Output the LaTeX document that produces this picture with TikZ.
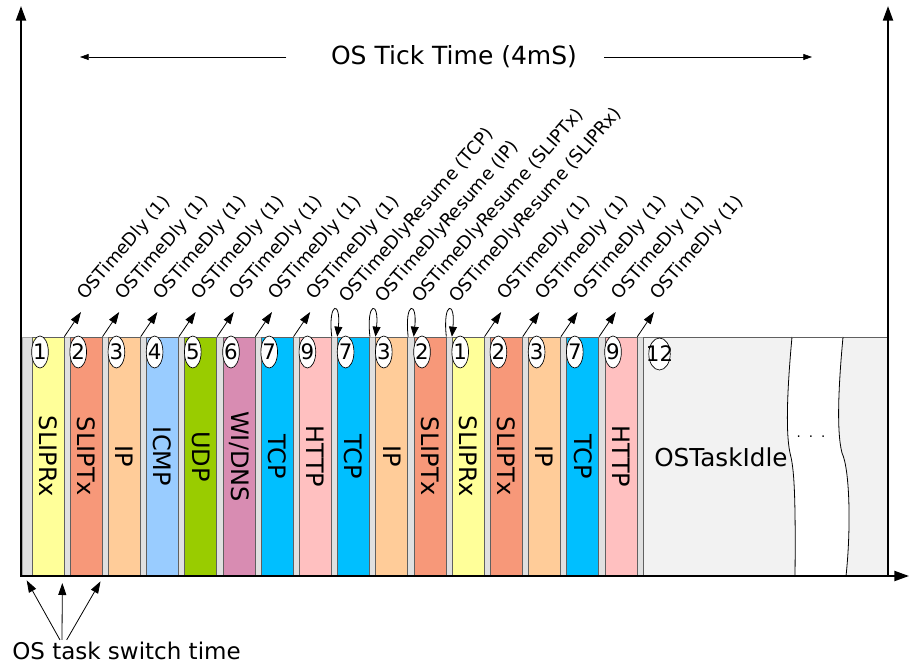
\documentclass[tikz,border=0pt]{standalone}
\usepackage{fontspec}
\setmainfont{DejaVu Sans}
\usepackage{graphicx}
\definecolor{osrx}{RGB}{255,255,153}
\definecolor{ostx}{RGB}{247,152,121}
\definecolor{osip}{RGB}{255,204,153}
\definecolor{osicmp}{RGB}{153,204,255}
\definecolor{osudp}{RGB}{153,204,0}
\definecolor{osdns}{RGB}{216,140,178}
\definecolor{ostcp}{RGB}{0,191,255}
\definecolor{oshttp}{RGB}{255,192,192}
\definecolor{osgap}{RGB}{224,224,224}
\definecolor{osidle}{RGB}{242,242,242}
\definecolor{osedge}{RGB}{96,96,96}
\usetikzlibrary{arrows.meta,shapes.geometric}

\begin{document}
\begin{tikzpicture}[x=0.75pt, y=0.75pt,
    task/.style={rectangle, draw=osedge, line width=0.5pt, minimum width=24pt, minimum height=179.25pt,
      inner sep=0pt, font=\fontsize{18}{20}\selectfont},
    prio/.style={ellipse, draw, fill=white, line width=0.5pt, minimum width=12.5pt, minimum height=24pt,
      inner xsep=-4.5pt, inner ysep=0pt, font=\fontsize{16}{17}\selectfont},
    call/.style={rotate=49, anchor=base west, inner sep=0pt, font=\fontsize{13.5}{14}\selectfont},
    dly/.style={-{Triangle[length=9pt, width=6pt]}, line width=0.6pt},
    resume/.style={-{Triangle[length=7.5pt, width=6pt]}, line width=0.6pt},
    axis/.style={-{Triangle[length=11pt, width=7.5pt]}, line width=1.6pt},
    span/.style={-{Triangle[length=6.5pt, width=4.5pt]}, line width=0.5pt}
  ]
    \useasboundingbox (0,0) rectangle (909,664);

    % Tick period backdrop and idle area
    \draw[fill=osgap, draw=gray!70, line width=0.5pt] (22,88) rectangle (888,327);
    \draw[fill=osidle, draw=osedge, line width=0.5pt] (643,88) rectangle (888,327);

    % Time break in the idle task
    \fill[white] (792,327) .. controls (788,284) and (785,234) .. (790,211)
      .. controls (793,199) and (796,184) .. (795,88) -- (846,88)
      .. controls (851,134) and (850,194) .. (842,211)
      .. controls (836,234) and (839,284) .. (843,327) -- cycle;
    \draw[line width=0.6pt] (792,327) .. controls (788,284) and (785,234) .. (790,211)
      .. controls (793,199) and (796,184) .. (795,88);
    \draw[line width=0.6pt] (843,327) .. controls (839,284) and (836,234) .. (842,211)
      .. controls (850,194) and (851,134) .. (846,88);
    \draw[draw=osedge, line width=0.5pt] (792,327) -- (843,327);
    \node[font=\fontsize{10}{10}\selectfont] (dots) at (811,227) {.\hspace{6pt}.\hspace{6pt}.};
    \node[anchor=west, inner sep=0pt, font=\fontsize{18.5}{20}\selectfont] (idle) at (654,207) {OSTaskIdle};

    % Tasks in one tick
    \node[task, fill=osrx]   (b1)  at (48,207.5)    {\rotatebox{-90}{SLIPRx}};
    \node[task, fill=ostx]   (b2)  at (86.2,207.5)  {\rotatebox{-90}{SLIPTx}};
    \node[task, fill=osip]   (b3)  at (124.4,207.5) {\rotatebox{-90}{IP}};
    \node[task, fill=osicmp] (b4)  at (162.6,207.5) {\rotatebox{-90}{ICMP}};
    \node[task, fill=osudp]  (b5)  at (200.8,207.5) {\rotatebox{-90}{UDP}};
    \node[task, fill=osdns]  (b6)  at (239,207.5)   {\rotatebox{-90}{WI/DNS}};
    \node[task, fill=ostcp]  (b7)  at (277.2,207.5) {\rotatebox{-90}{TCP}};
    \node[task, fill=oshttp] (b8)  at (315.4,207.5) {\rotatebox{-90}{HTTP}};
    \node[task, fill=ostcp]  (b9)  at (353.6,207.5) {\rotatebox{-90}{TCP}};
    \node[task, fill=osip]   (b10) at (391.8,207.5) {\rotatebox{-90}{IP}};
    \node[task, fill=ostx]   (b11) at (430,207.5)   {\rotatebox{-90}{SLIPTx}};
    \node[task, fill=osrx]   (b12) at (468.2,207.5) {\rotatebox{-90}{SLIPRx}};
    \node[task, fill=ostx]   (b13) at (506.4,207.5) {\rotatebox{-90}{SLIPTx}};
    \node[task, fill=osip]   (b14) at (544.6,207.5) {\rotatebox{-90}{IP}};
    \node[task, fill=ostcp]  (b15) at (582.8,207.5) {\rotatebox{-90}{TCP}};
    \node[task, fill=oshttp] (b16) at (621,207.5)   {\rotatebox{-90}{HTTP}};

    % Priorities
    \node[prio] (p1)  at (40,312)    {1};
    \node[prio] (p2)  at (78.2,312)  {2};
    \node[prio] (p3)  at (116.4,312) {3};
    \node[prio] (p4)  at (154.6,312) {4};
    \node[prio] (p5)  at (192.8,312) {5};
    \node[prio] (p6)  at (231,312)   {6};
    \node[prio] (p7)  at (269.2,312) {7};
    \node[prio] (p8)  at (307.4,312) {9};
    \node[prio] (p9)  at (345.6,312) {7};
    \node[prio] (p10) at (383.8,312) {3};
    \node[prio] (p11) at (422,312)   {2};
    \node[prio] (p12) at (460.2,312) {1};
    \node[prio] (p13) at (498.4,312) {2};
    \node[prio] (p14) at (536.6,312) {3};
    \node[prio] (p15) at (574.8,312) {7};
    \node[prio] (p16) at (613,312)   {9};
    \node[prio] (p17) at (659.5,310) {12};

    % Axes
    \draw[axis] (21,87.5) -- (21,658);
    \draw[axis] (888,87.5) -- (888,658);
    \draw[axis] (21,88) -- (909,88);

    % Tick period
    \node[font=\fontsize{18.75}{20}\selectfont] (tick) at (454,607) {OS Tick Time (4mS)};
    \coordinate (tl) at (80,607);
    \coordinate (tr) at (812,607);
    \draw[span] ([xshift=-30pt]tick.west) -- (tl);
    \draw[span] ([xshift=17pt]tick.east) -- (tr);

    % Tasks giving up the CPU
    \coordinate (t1)  at (81,352);
    \coordinate (t2)  at (119.2,352);
    \coordinate (t3)  at (157.4,352);
    \coordinate (t4)  at (195.6,352);
    \coordinate (t5)  at (233.8,352);
    \coordinate (t6)  at (272,352);
    \coordinate (t7)  at (310.2,352);
    \coordinate (t12) at (501.2,352);
    \coordinate (t13) at (539.4,352);
    \coordinate (t14) at (577.6,352);
    \coordinate (t15) at (615.8,352);
    \coordinate (t16) at (654,352);
    \draw[dly] (b1.north east)  -- (t1);
    \draw[dly] (b2.north east)  -- (t2);
    \draw[dly] (b3.north east)  -- (t3);
    \draw[dly] (b4.north east)  -- (t4);
    \draw[dly] (b5.north east)  -- (t5);
    \draw[dly] (b6.north east)  -- (t6);
    \draw[dly] (b7.north east)  -- (t7);
    \draw[dly] (b12.north east) -- (t12);
    \draw[dly] (b13.north east) -- (t13);
    \draw[dly] (b14.north east) -- (t14);
    \draw[dly] (b15.north east) -- (t15);
    \draw[dly] (b16.north east) -- (t16);

    % Resumed tasks
    \draw[resume] (b8.north east)  .. controls +(-4,36) and +(4,36) .. (b9.north west);
    \draw[resume] (b9.north east)  .. controls +(-4,36) and +(4,36) .. (b10.north west);
    \draw[resume] (b10.north east) .. controls +(-4,36) and +(4,36) .. (b11.north west);
    \draw[resume] (b11.north east) .. controls +(-4,36) and +(4,36) .. (b12.north west);

    % Call labels
    \node[call] (c1)  at (85,363)    {OSTimeDly (1)};
    \node[call] (c2)  at (123.2,363) {OSTimeDly (1)};
    \node[call] (c3)  at (161.4,363) {OSTimeDly (1)};
    \node[call] (c4)  at (199.6,363) {OSTimeDly (1)};
    \node[call] (c5)  at (237.8,363) {OSTimeDly (1)};
    \node[call] (c6)  at (276,363)   {OSTimeDly (1)};
    \node[call] (c7)  at (314.2,363) {OSTimeDly (1)};
    \node[call] (c8)  at (347,360)   {OSTimeDlyResume (TCP)};
    \node[call] (c9)  at (383,360)   {OSTimeDlyResume (IP)};
    \node[call] (c10) at (420,360)   {OSTimeDlyResume (SLIPTx)};
    \node[call] (c11) at (457,360)   {OSTimeDlyResume (SLIPRx)};
    \node[call] (c12) at (505.2,363) {OSTimeDly (1)};
    \node[call] (c13) at (543.4,363) {OSTimeDly (1)};
    \node[call] (c14) at (581.6,363) {OSTimeDly (1)};
    \node[call] (c15) at (619.8,363) {OSTimeDly (1)};
    \node[call] (c16) at (658,363)   {OSTimeDly (1)};

    % Task switch time
    \node[anchor=base west, inner sep=0pt, font=\fontsize{17.25}{19}\selectfont] (sw) at (12,5) {OS task switch time};
    \draw[dly] ([xshift=36pt,yshift=1pt]sw.north west) -- ([xshift=-3.75pt,yshift=-3pt]b1.south west);
    \draw[dly] ([xshift=37.5pt,yshift=1pt]sw.north west) -- ([xshift=-1.5pt,yshift=-5pt]b1.south east);
    \draw[dly] ([xshift=41pt,yshift=1pt]sw.north west) -- ([xshift=-1.5pt,yshift=-3.75pt]b2.south east);
\end{tikzpicture}
\end{document}
